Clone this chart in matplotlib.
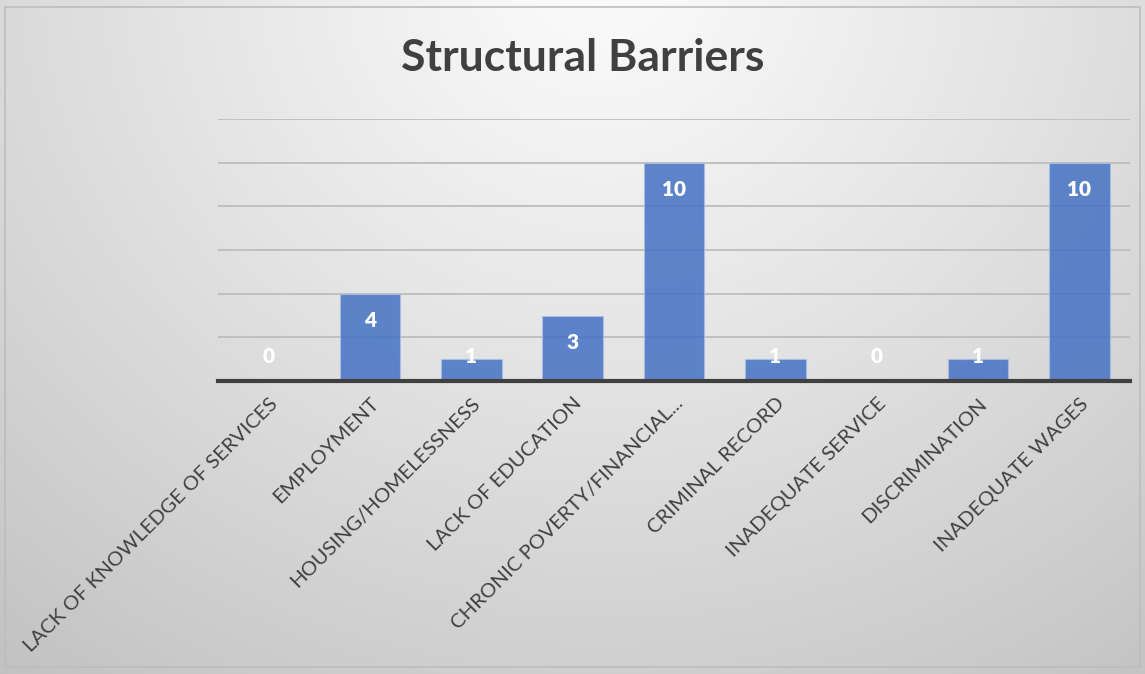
import numpy as np
import matplotlib
matplotlib.use("Agg")
import matplotlib.pyplot as plt
from matplotlib.patches import Rectangle

categories = ["LACK OF KNOWLEDGE OF SERVICES", "EMPLOYMENT", "HOUSING/HOMELESSNESS",
              "LACK OF EDUCATION", "CHRONIC POVERTY/FINANCIAL...", "CRIMINAL RECORD",
              "INADEQUATE SERVICE", "DISCRIMINATION", "INADEQUATE WAGES"]
values = [0, 4, 1, 3, 10, 1, 0, 1, 10]
title = "Structural Barriers"

plt.rcParams['font.family'] = ['Lato', 'DejaVu Sans']

W, H = 1145, 674
fig = plt.figure(figsize=(W / 100, H / 100), dpi=100)

# background radial gradient
bg = fig.add_axes([0, 0, 1, 1], zorder=0)
yy, xx = np.mgrid[0:H, 0:W]
cx, cy = 600, -20
d = np.sqrt(((xx - cx) / 1.0) ** 2 + ((yy - cy) / 0.9) ** 2)
d = d / d.max()
light, dark = 0.985, 0.76
img = light - (light - dark) * np.clip(d, 0, 1) ** 1.1
bg.imshow(np.dstack([img, img, img]), extent=[0, W, H, 0], aspect='auto')
bg.set_xlim(0, W)
bg.set_ylim(H, 0)
bg.axis('off')
bg.add_patch(Rectangle((5, 7), 1135, 660, fill=False, edgecolor='#bdbdbd', lw=1.2))

ax = fig.add_axes([218 / W, 1 - 381 / H, (1130 - 218) / W, (381 - 119) / H], zorder=1)
ax.patch.set_alpha(0)
x = np.arange(len(categories))
ax.bar(x, values, width=0.6, color='#4472C4', alpha=0.85, edgecolor='#a9bde6',
       linewidth=0.8, zorder=3)
ax.set_xlim(-0.5, len(categories) - 0.5)
ax.set_ylim(0, 12)
ax.set_yticks(np.arange(0, 13, 2))
ax.yaxis.grid(True, color='#bdbdbd', lw=1.3, zorder=1)
ax.tick_params(axis='y', left=False, labelleft=False)
ax.tick_params(axis='x', length=0, pad=10)
for s in ['top', 'right', 'left']:
    ax.spines[s].set_visible(False)
ax.spines['bottom'].set_color('#404040')
ax.spines['bottom'].set_linewidth(3)
ax.spines['bottom'].set_zorder(5)
ax.set_xticks(x)
ax.set_xticklabels(categories, rotation=45, ha='right', rotation_mode='anchor',
                   fontsize=14.7, color='#404040')

for xi, v in zip(x, values):
    ypos = max(v - 1.25, 1.1)
    ax.text(xi, ypos, str(v), ha='center', va='center', color='white',
            fontsize=15, fontweight='heavy', zorder=6)

fig.text(583 / W, 1 - 58 / H, title, ha='center', va='center', fontsize=32,
         fontweight='bold', color='#404040')

fig.savefig('out.png', dpi=100)
